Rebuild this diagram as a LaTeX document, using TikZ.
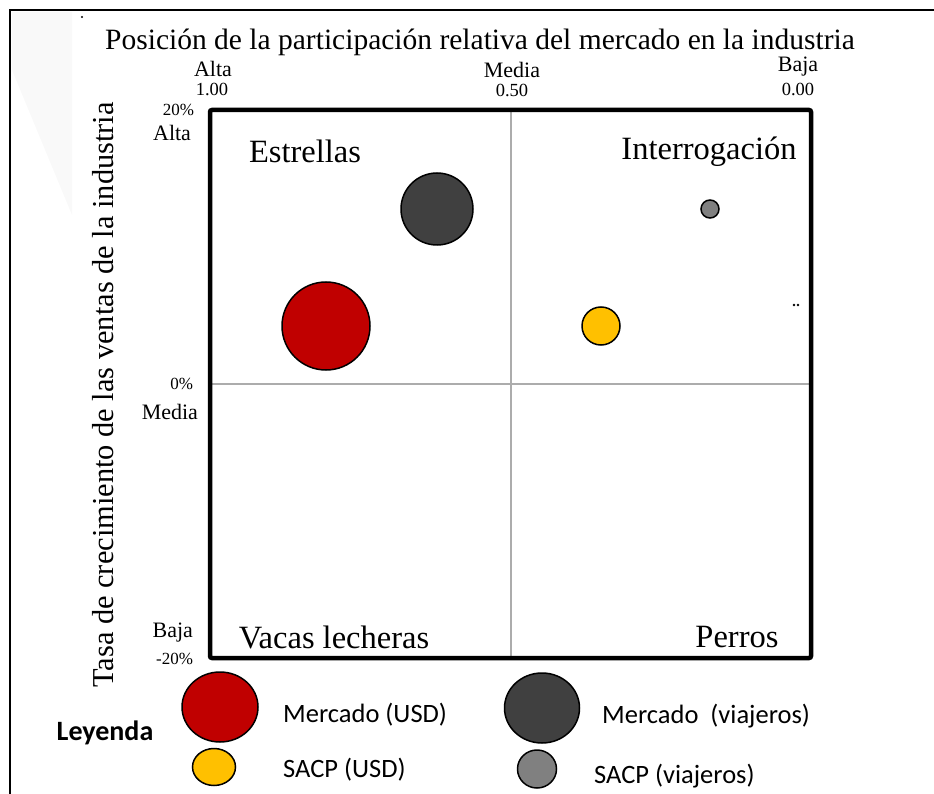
\documentclass[tikz,border=0pt]{standalone}
\usepackage{fontspec}
\setmainfont{Liberation Serif}
\newfontfamily\legfont{Carlito}
\usetikzlibrary{shapes.geometric}
\definecolor{darkbub}{HTML}{404040}
\definecolor{redbub}{HTML}{C00000}
\definecolor{yelbub}{HTML}{FFC000}
\definecolor{greybub}{HTML}{808080}
\tikzset{
  fs/.style={font=\fontsize{#1}{#1}\selectfont},
  lbl/.style={inner sep=0pt, outer sep=0pt},
  bubble/.style={circle, draw=black, line width=1.5pt, inner sep=0pt, minimum size=#1},
  legbub/.style={ellipse, draw=black, line width=1.5pt, inner sep=0pt},
  legtxt/.style={inner sep=0pt, anchor=base west, font=\legfont\fontsize{26.5}{26.5}\selectfont},
  midline/.style={draw=gray!65, line width=1.3pt},
}
\begin{document}
\begin{tikzpicture}[x=1pt,y=-1pt]
\useasboundingbox (0,0) rectangle (934,794);
% faint background watermark
\fill[gray!5] (12,12) -- (72,12) -- (72,215) -- (12,70) -- cycle;
% outer frame
\draw[line width=2pt] (10,794) -- (10,10) -- (934,10);
\fill (82,17) circle (1.2);
% title and x-axis labels
\node[lbl, fs=29.5] (title) at (480,42) {Posición de la participación relativa del mercado en la industria};
\node[lbl, fs=22] (xalta) at (213,69) {Alta};
\node[lbl, fs=22] (xmedia) at (512,70) {Media};
\node[lbl, fs=22] (xbaja) at (798,67) {Baja};
\node[lbl, fs=18.5] (x100) at (212,89) {1.00};
\node[lbl, fs=18.5] (x050) at (512,90) {0.50};
\node[lbl, fs=18.5] (x000) at (798,89) {0.00};
% y-axis labels
\node[lbl, fs=30.4, rotate=90] (ytitle) at (103,395) {Tasa de crecimiento de las ventas de la industria};
\node[lbl, fs=17, anchor=east] (y20) at (194,110) {20\%};
\node[lbl, fs=22, anchor=east] (yalta) at (191,133) {Alta};
\node[lbl, fs=17, anchor=east] (y0) at (193,384) {0\%};
\node[lbl, fs=22, anchor=east] (ymedia) at (198,412) {Media};
\node[lbl, fs=22, anchor=east] (ybaja) at (193,633) {Baja};
\node[lbl, fs=17, anchor=east] (ym20) at (193,659) {-20\%};
% quadrant lines and frame
\coordinate (vtop) at (511,110);
\coordinate (vbot) at (511,658);
\coordinate (hl) at (210,384);
\coordinate (hr) at (811,384);
\draw[midline] (vtop) -- (vbot);
\draw[midline] (hl) -- (hr);
\draw[line width=4.5pt, rounded corners=2pt] (210,110) rectangle (811,658);
% quadrant names
\node[lbl, fs=32.5] (estrellas) at (305,151) {Estrellas};
\node[lbl, fs=32.5] (interrog) at (709,152) {Interrogación};
\node[lbl, fs=32.5] (vacas) at (334,637) {Vacas lecheras};
\node[lbl, fs=32.5] (perros) at (737,637) {Perros};
% bubbles
\node[bubble=72pt, fill=darkbub] (mviaj) at (437,209) {};
\node[bubble=88pt, fill=redbub] (musd) at (326,326) {};
\node[bubble=38pt, fill=yelbub] (susd) at (601,326) {};
\node[bubble=18pt, fill=greybub] (sviaj) at (710,209) {};
\fill (794,305) circle (1.3) (798,305) circle (1.3);
% legend
\node[inner sep=0pt, font=\legfont\bfseries\fontsize{28}{28}\selectfont] (leyenda) at (105,733) {Leyenda};
\node[legbub, fill=redbub, minimum width=76pt, minimum height=70pt] (lmusd) at (220,707) {};
\node[legbub, fill=darkbub, minimum width=75pt, minimum height=70pt] (lmviaj) at (542,708) {};
\node[legbub, fill=yelbub, minimum width=43pt, minimum height=37pt] (lsusd) at (214,767) {};
\node[legbub, fill=greybub, minimum width=39pt, minimum height=38pt] (lsviaj) at (537,769) {};
\node[legtxt] (tmusd) at (283,722) {Mercado (USD)};
\node[legtxt] (tsusd) at (283,777) {SACP (USD)};
\node[legtxt] (tmviaj) at (602,723) {Mercado\ \ (viajeros)};
\node[legtxt] (tsviaj) at (594,783) {SACP (viajeros)};
\end{tikzpicture}
\end{document}
